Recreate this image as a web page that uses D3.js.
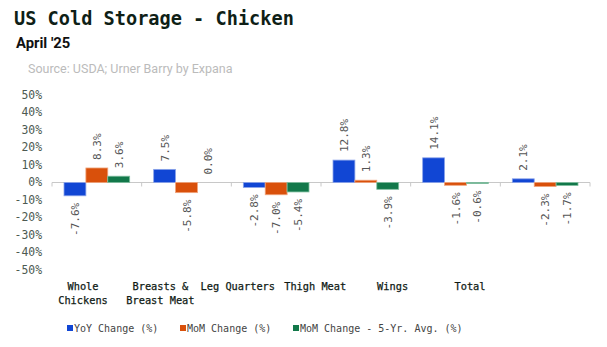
<!DOCTYPE html>
<html><head><meta charset="utf-8">
<script src="https://cdn.jsdelivr.net/npm/d3@7"></script>
<style>body{margin:0;background:#fff}</style>
</head><body>
<svg id="c" width="607" height="347"></svg>
<script>
const categories = [["Whole","Chickens"],["Breasts &","Breast Meat"],["Leg Quarters"],["Thigh Meat"],["Wings"],["Total"]];
const seriesNames = ["YoY Change (%)","MoM Change (%)","MoM Change - 5-Yr. Avg. (%)"];
const yoy = [-7.6, 7.5, -2.8, 12.8, 14.1, 2.1];
const mom = [8.3, -5.8, -7.0, 1.3, -1.6, -2.3];
const mom5 = [3.6, 0.0, -5.4, -3.9, -0.6, -1.7];
const yTicks = [50,40,30,20,10,0,-10,-20,-30,-40,-50];
const colors = ["#1146d4","#d9500b","#12784a"];
const strokes = ["#8aa3ea","#f0a47c","#7fbf9f"];

const svg = d3.select("#c");
const mono = "'DejaVu Sans Mono', monospace";
svg.append("text").attr("x",14).attr("y",25).attr("font-family",mono).attr("font-weight","bold")
  .attr("font-size",18.6).attr("fill","#0f1f17").text("US Cold Storage - Chicken");
svg.append("text").attr("x",16).attr("y",48).attr("font-family","Roboto, 'Noto Sans', sans-serif").attr("font-weight","bold")
  .attr("font-size",14.8).attr("fill","#111").text("April '25");
svg.append("text").attr("x",28).attr("y",73).attr("font-family","Roboto, 'Noto Sans', sans-serif")
  .attr("font-size",12.5).attr("fill","#bbbbbb").text("Source: USDA; Urner Barry by Expana");

const x = d3.scaleBand().domain(d3.range(categories.length)).range([52,590]).paddingInner(0).paddingOuter(0);
const x1 = d3.scaleBand().domain([0,1,2]).range([12, x.bandwidth()-12]);
const y = d3.scaleLinear().domain([-50,50]).range([270,95]);
// category label positions (labels in the reference sit on a narrower spacing than the bands)
const xl = d3.scalePoint().domain(d3.range(categories.length)).range([83,470]);

// y tick labels
svg.append("g").selectAll("text").data(yTicks).join("text")
  .attr("x",42).attr("y",d=>y(d)).attr("dy","0.35em").attr("text-anchor","end")
  .attr("font-family",mono).attr("font-size",11.4).attr("fill","#4d5a52").text(d=>d+"%");

// axis line + ticks
const bounds = d3.range(categories.length+1).map(i=> i<categories.length ? x(i) : x(i-1)+x.bandwidth());
svg.append("line").attr("x1",bounds[0]).attr("x2",bounds[bounds.length-1])
  .attr("y1",y(0)).attr("y2",y(0)).attr("stroke","#c8c8c8");
svg.append("g").selectAll("line").data(bounds).join("line")
  .attr("x1",d=>d).attr("x2",d=>d).attr("y1",y(0)).attr("y2",y(0)+4).attr("stroke","#c8c8c8");

const series = [yoy, mom, mom5];
series.forEach((vals,si)=>{
  const g = svg.append("g");
  g.selectAll("rect").data(vals).join("rect")
    .attr("x",(d,i)=>x(i)+x1(si)).attr("width",x1.bandwidth())
    .attr("y",d=>y(Math.max(0,d))).attr("height",d=>Math.abs(y(d)-y(0)))
    .attr("fill",colors[si]).attr("stroke",strokes[si]).attr("stroke-width",0.8);
  g.selectAll("text").data(vals).join("text")
    .attr("transform",(d,i)=>{
      const cx = x(i)+x1(si)+x1.bandwidth()/2;
      const yy = d>=0 ? y(d)-8 : y(d)+7;
      return `translate(${cx+4},${yy}) rotate(-90)`;
    })
    .attr("text-anchor",d=>d>=0?"start":"end")
    .attr("font-family",mono).attr("font-size",11).attr("fill","#555")
    .text(d=>d.toFixed(1)+"%");
});

// category labels
const cl = svg.append("g");
categories.forEach((lines,i)=>{
  const t = cl.append("text").attr("x",xl(i)).attr("y",290)
    .attr("text-anchor","middle").attr("font-family",mono).attr("font-size",10.3)
    .attr("fill","#0f1a14").attr("stroke","#0f1a14").attr("stroke-width",0.25);
  lines.forEach((l,j)=>t.append("tspan").attr("x",xl(i)).attr("dy",j?14:0).text(l));
});

// legend
const lx = [74, 187, 300];
const lg = svg.append("g");
seriesNames.forEach((n,i)=>{
  lg.append("rect").attr("x",lx[i]-7).attr("y",325).attr("width",6).attr("height",6).attr("fill",colors[i]);
  lg.append("text").attr("x",lx[i]).attr("y",332).attr("font-family",mono).attr("font-size",10)
    .attr("fill","#444").text(n);
});
</script>
</body></html>
